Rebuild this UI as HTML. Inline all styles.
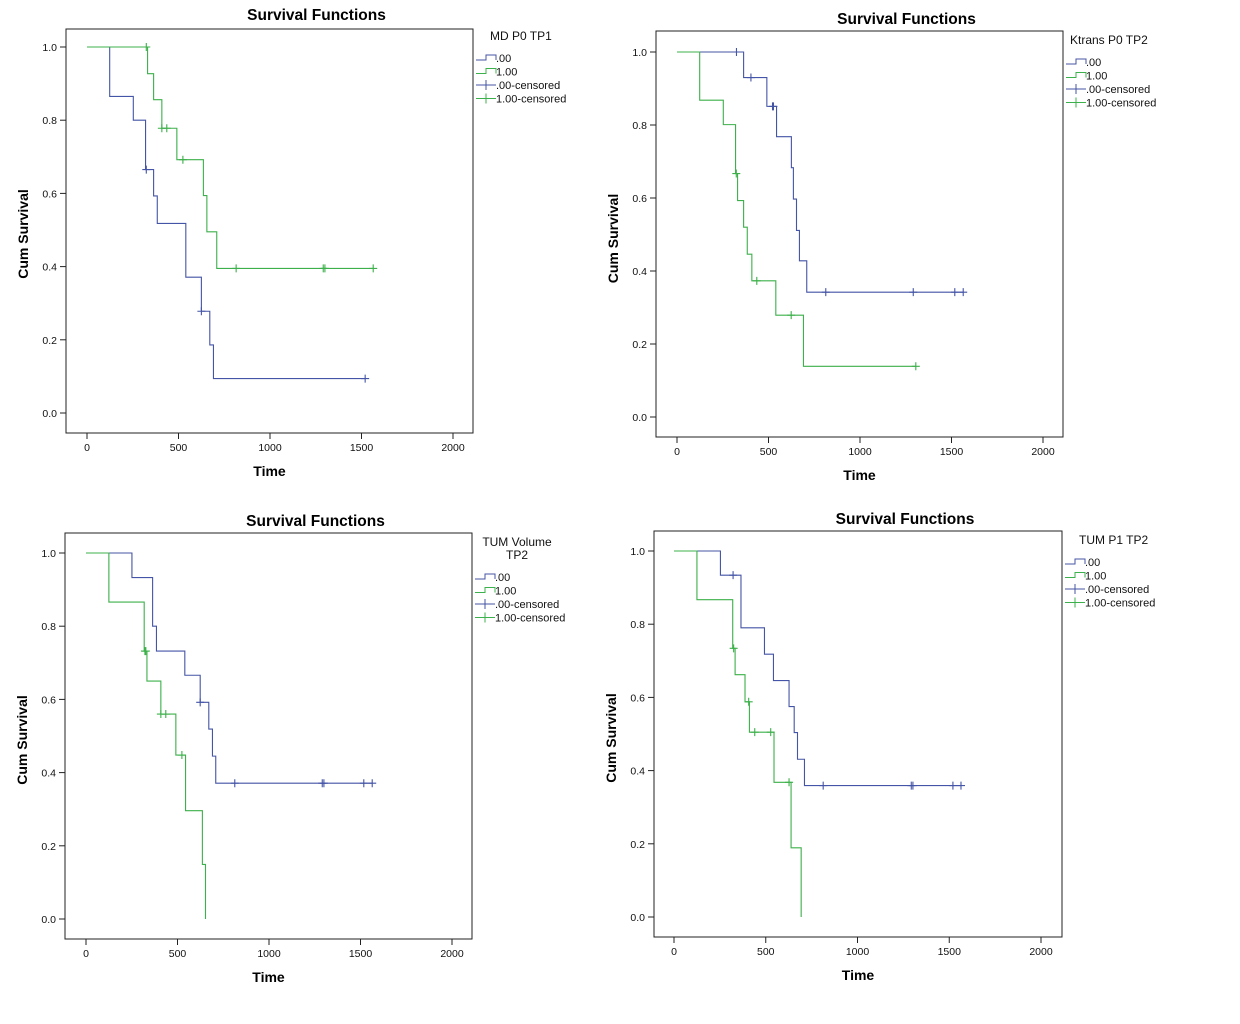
<!DOCTYPE html>
<html><head><meta charset="utf-8"><style>
html,body{margin:0;padding:0;background:#fff;}
svg{display:block;font-family:"Liberation Sans",Arial,sans-serif;}
</style></head><body>
<svg id="chart" width="1240" height="1024" viewBox="0 0 1240 1024" xmlns="http://www.w3.org/2000/svg"></svg>
<script>
// ---- Data (time, cumulative survival) ----
const xTicks = [0, 500, 1000, 1500, 2000];
const yTicks = [0.0, 0.2, 0.4, 0.6, 0.8, 1.0];
const panelTitles = ["Survival Functions","Survival Functions","Survival Functions","Survival Functions"];
const legendTitles = [["MD P0 TP1"],["Ktrans P0 TP2"],["TUM Volume","TP2"],["TUM P1 TP2"]];
const legendLabels = [".00","1.00",".00-censored","1.00-censored"];

// Panel 1: MD P0 TP1
const p1BlueT = [124,253,320,364,384,540,625,671,691];
const p1BlueS = [0.865,0.80,0.665,0.593,0.518,0.371,0.278,0.186,0.094];
const p1BlueCT = [324,625,1520];
const p1GreenT = [331,364,409,491,636,655,709];
const p1GreenS = [0.927,0.856,0.778,0.692,0.594,0.495,0.395];
const p1GreenCT = [324,409,436,524,815,1291,1300,1564];
// Panel 2: Ktrans P0 TP2
const p2BlueT = [364,491,544,625,636,653,669,709];
const p2BlueS = [0.930,0.851,0.768,0.683,0.597,0.511,0.428,0.342];
const p2BlueCT = [325,404,522,527,813,1291,1518,1564];
const p2GreenT = [124,253,320,331,364,384,409,540,691];
const p2GreenS = [0.868,0.801,0.667,0.593,0.520,0.446,0.373,0.279,0.139];
const p2GreenCT = [324,436,624,1305];
// Panel 3: TUM Volume TP2
const p3BlueT = [251,364,385,540,624,671,691,709];
const p3BlueS = [0.933,0.800,0.732,0.666,0.592,0.519,0.445,0.371];
const p3BlueCT = [624,813,1291,1300,1518,1564];
const p3GreenT = [125,318,333,409,491,544,636,653];
const p3GreenS = [0.866,0.732,0.650,0.560,0.448,0.296,0.149,0.0];
const p3GreenCT = [322,327,409,436,524];
// Panel 4: TUM P1 TP2
const p4BlueT = [253,365,493,542,627,655,673,711];
const p4BlueS = [0.934,0.790,0.718,0.646,0.575,0.504,0.431,0.359];
const p4BlueCT = [322,813,1293,1302,1520,1564];
const p4GreenT = [125,320,333,387,411,545,638,693];
const p4GreenS = [0.867,0.734,0.662,0.588,0.505,0.368,0.189,0.0];
const p4GreenCT = [325,407,440,527,627];

const series = [
  [[p1BlueT,p1BlueS,p1BlueCT],[p1GreenT,p1GreenS,p1GreenCT]],
  [[p2BlueT,p2BlueS,p2BlueCT],[p2GreenT,p2GreenS,p2GreenCT]],
  [[p3BlueT,p3BlueS,p3BlueCT],[p3GreenT,p3GreenS,p3GreenCT]],
  [[p4BlueT,p4BlueS,p4BlueCT],[p4GreenT,p4GreenS,p4GreenCT]]
];

// ---- Layout geometry ----
const geom = [
  {L:66,R:473,T:29,B:433,x0:87,x2000:453,y1:47,y0:413,titleY:20,legY:45},
  {L:656,R:1063,T:31,B:437,x0:677,x2000:1043,y1:52,y0:417,titleY:24,legY:49},
  {L:65,R:472,T:533,B:939,x0:86,x2000:452,y1:553,y0:919,titleY:526,legY:551},
  {L:654,R:1062,T:531,B:937,x0:674,x2000:1041,y1:551,y0:917,titleY:524,legY:549}
];
const colors = ["#4454a6","#3cb04a"];
const NS = "http://www.w3.org/2000/svg";
const svg = document.getElementById("chart");
function mk(tag, attrs, parent, text){
  const e = document.createElementNS(NS, tag);
  for (const k in attrs) e.setAttribute(k, attrs[k]);
  if (text !== undefined) e.textContent = text;
  (parent || svg).appendChild(e);
  return e;
}

geom.forEach((g, pi) => {
  const grp = mk("g", {});
  
  
  const sx = t => g.x0 + (t/2000)*(g.x2000 - g.x0);
  const sy = s => g.y0 - s*(g.y0 - g.y1);

  const frame = mk("rect", {x:g.L, y:g.T, width:g.R-g.L, height:g.B-g.T, fill:"none", stroke:"#222", "stroke-width":1}, grp);
  
  

  const title = mk("text", {x:(g.L+g.R)/2 + 47, y:g.titleY, "text-anchor":"middle", "font-size":"15.5", "font-weight":"bold", fill:"#000"}, grp, panelTitles[pi]);
  
  

  yTicks.forEach(v => {
    const y = sy(v);
    const tk = mk("line", {x1:g.L-6, x2:g.L, y1:y, y2:y, stroke:"#222"}, grp);
    
    
    const lb = mk("text", {x:g.L-9, y:y+4, "text-anchor":"end", "font-size":"10.5", fill:"#111"}, grp, v.toFixed(1));
    
    
  });
  xTicks.forEach(v => {
    const x = sx(v);
    const tk = mk("line", {x1:x, x2:x, y1:g.B, y2:g.B+6, stroke:"#222"}, grp);
    
    
    const lb = mk("text", {x:x, y:g.B+18, "text-anchor":"middle", "font-size":"10.5", fill:"#111"}, grp, String(v));
    
    
  });
  const xt = mk("text", {x:(g.L+g.R)/2, y:g.B+43, "text-anchor":"middle", "font-size":"14", "font-weight":"bold"}, grp, "Time");
  
  
  const ycx = g.L - 38, ycy = (g.y0+g.y1)/2 + 4;
  const yt = mk("text", {x:ycx, y:ycy, "text-anchor":"middle", "font-size":"14", "font-weight":"bold", transform:"rotate(-90 "+ycx+" "+ycy+")"}, grp, "Cum Survival");
  
  

  series[pi].forEach((ser, si) => {
    const [T, S, CT] = ser;
    let d = "M" + sx(0) + " " + sy(1);
    for (let i = 0; i < T.length; i++) {
      d += " H" + sx(T[i]) + " V" + sy(S[i]);
    }
    const lastCens = CT.length ? Math.max(...CT) : 0;
    const lastT = T.length ? T[T.length-1] : 0;
    if (lastCens > lastT) d += " H" + sx(lastCens);
    const path = mk("path", {d:d, fill:"none", stroke:colors[si], "stroke-width":1.1}, grp);
    
    
    CT.forEach(c => {
      let s = 1;
      for (let i = 0; i < T.length; i++) if (T[i] <= c) s = S[i];
      const x = sx(c), y = sy(s);
      const m = mk("path", {d:"M"+(x-4)+" "+y+" H"+(x+4)+" M"+x+" "+(y-4)+" V"+(y+4), stroke:colors[si], "stroke-width":1.1}, grp);
      
      
    });
  });

  // legend
  const lx = g.R + 3;
  const lt = legendTitles[pi];
  lt.forEach((t, k) => {
    const tt = mk("text", {x: lx + (lt.length>1 ? 42 : (pi===1?4:14)), y:g.legY - 5 + k*13, "text-anchor": lt.length>1 ? "middle":"start", "font-size":"12", fill:"#111"}, grp, t);
    
    
  });
  const ly0 = g.legY + 16 + (lt.length-1)*13;
  legendLabels.forEach((lab, k) => {
    const y = ly0 + k*13.5;
    const c = colors[k % 2];
    let icon;
    if (k < 2) icon = mk("path", {d:"M"+lx+" "+(y-1)+" H"+(lx+10)+" V"+(y-6)+" H"+(lx+20)+" V"+(y-1), fill:"none", stroke:c, "stroke-width":1}, grp);
    else icon = mk("path", {d:"M"+lx+" "+(y-3)+" H"+(lx+20)+" M"+(lx+10)+" "+(y-8)+" V"+(y+2), stroke:c, "stroke-width":1}, grp);
    
    
    const tx = mk("text", {x:lx+20, y:y+1, "font-size":"11", fill:"#111"}, grp, lab);
    
    
  });
});
</script>
</body></html>
